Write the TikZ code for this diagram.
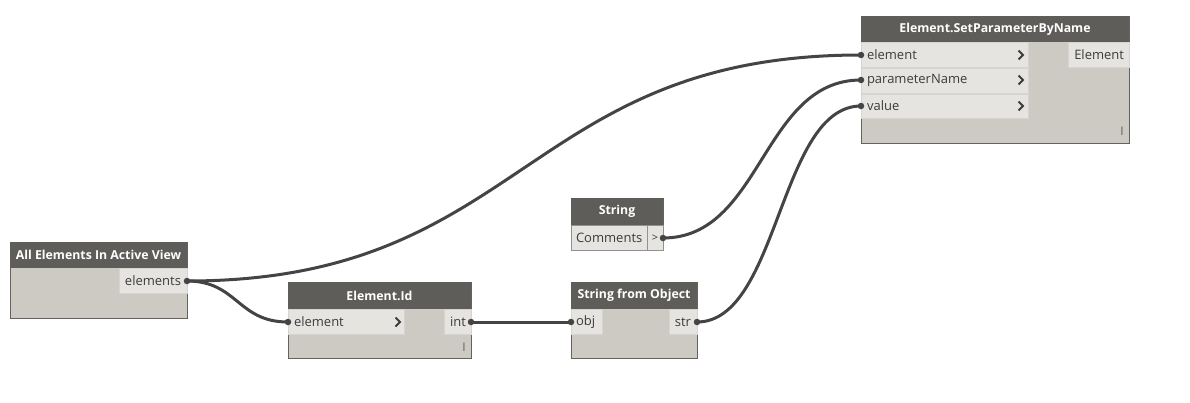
\documentclass[tikz,border=0pt]{standalone}
\usepackage{fontspec}
\setmainfont{Open Sans}
\usetikzlibrary{calc}
\definecolor{headerc}{RGB}{95,93,90}
\definecolor{bodyc}{RGB}{205,201,195}
\definecolor{rowc}{RGB}{230,228,224}
\definecolor{rowsep}{RGB}{215,212,207}
\definecolor{borderc}{RGB}{100,98,95}
\definecolor{textc}{RGB}{60,60,60}
\definecolor{wirec}{RGB}{68,68,68}
\newcommand\dchev[2]{\draw[chevron] (#1-2.5,#2-4.5) -- (#1+2,#2) -- (#1-2.5,#2+4.5);}
\newcommand\dwire[2]{\draw[wire] let \p1=(#1.center), \p2=(#2.center) in (\p1) .. controls ({(\x1+\x2)/2},\y1) and ({(\x1+\x2)/2},\y2) .. (\p2);}
\begin{document}
\begin{tikzpicture}[x=1pt,y=-1pt,
  every node/.style={inner sep=0pt, outer sep=0pt},
  body/.style={draw=borderc, fill=bodyc, line width=0.8pt, anchor=north west},
  header/.style={fill=headerc, anchor=north west, text=white, font=\fontsize{12.3}{15}\selectfont\bfseries},
  row/.style={fill=rowc, draw=rowsep, line width=0.5pt, anchor=north west},
  lbl/.style={text=textc, font=\fontsize{13}{15}\selectfont},
  lacing/.style={text=textc!80, font=\fontsize{12}{14}\selectfont},
  chevron/.style={draw=textc, line width=2pt},
  wire/.style={draw=wirec, line width=3pt},
  port/.style={circle, fill=wirec, minimum size=6.5pt}
]
\useasboundingbox[fill=white] (0,0) rectangle (1190,402);

% ---- Element.SetParameterByName
\node[body, minimum width=268pt, minimum height=127pt] (sp) at (861,16) {};
\node[header, minimum width=268pt, minimum height=26pt] (sph) at (861,16) {Element.SetParameterByName};
\node[row, minimum width=167pt, minimum height=25pt] (spr1) at (861,42) {};
\node[row, minimum width=167pt, minimum height=25pt] (spr2) at (861,68) {};
\node[row, minimum width=167pt, minimum height=24pt] (spr3) at (861,94) {};
\node[row, minimum width=61pt, minimum height=25pt] (spo) at (1068,42) {};
\node[lbl, anchor=west] (spt1) at (867,55) {element};
\node[lbl, anchor=west] (spt2) at (867,80) {parameterName};
\node[lbl, anchor=west] (spt3) at (867,106) {value};
\node[lbl, anchor=east] (spot) at (1124,55) {Element};
\dchev{1021}{55}
\dchev{1021}{80}
\dchev{1021}{106}
\node[lacing] (spl) at (1122,131) {I};
\node[port] (spp1) at (861,55) {};
\node[port] (spp2) at (861,80) {};
\node[port] (spp3) at (861,106) {};

% ---- All Elements In Active View
\node[body, minimum width=177pt, minimum height=76pt] (ae) at (10,242) {};
\node[header, minimum width=177pt, minimum height=26pt] (aeh) at (10,242) {All Elements In Active View};
\node[row, minimum width=68pt, minimum height=25pt] (aeo) at (119,268) {};
\node[lbl, anchor=east] (aeot) at (181,281) {elements};
\node[port] (aep) at (187,281) {};

% ---- Element.Id
\node[body, minimum width=183pt, minimum height=76pt] (ei) at (288,282) {};
\node[header, minimum width=183pt, minimum height=27pt] (eih) at (288,282) {Element.Id};
\node[row, minimum width=116pt, minimum height=25pt] (eir) at (288,309) {};
\node[row, minimum width=27pt, minimum height=25pt] (eio) at (444,309) {};
\node[lbl, anchor=west] (eirt) at (294,322) {element};
\node[lbl, anchor=east] (eiot) at (466,322) {int};
\dchev{398}{322}
\node[lacing] (eil) at (464,347) {I};
\node[port] (eipi) at (288,322) {};
\node[port] (eipo) at (471,322) {};

% ---- String
\node[body, minimum width=92pt, minimum height=52pt] (st) at (571,198) {};
\node[header, minimum width=92pt, minimum height=27pt] (sth) at (571,198) {String};
\node[row, minimum width=76pt, minimum height=25pt, draw=borderc!70] (str) at (571,225) {};
\node[row, minimum width=16pt, minimum height=25pt, draw=borderc!70] (stg) at (647,225) {};
\node[lbl, anchor=west] (strt) at (576,238) {Comments};
\node[lbl, font=\fontsize{11}{12}\selectfont] (stgt) at (655,238) {>};
\node[port] (stp) at (663,238) {};

% ---- String from Object
\node[body, minimum width=126pt, minimum height=76pt] (so) at (571,282) {};
\node[header, minimum width=126pt, minimum height=27pt] (soh) at (571,282) {String from Object};
\node[row, minimum width=31pt, minimum height=25pt] (sor) at (571,309) {};
\node[row, minimum width=28pt, minimum height=25pt] (soo) at (669,309) {};
\node[lbl, anchor=west] (sort) at (576,322) {obj};
\node[lbl, anchor=east] (soot) at (691,322) {str};
\node[port] (sopi) at (571,322) {};
\node[port] (sopo) at (697,322) {};

% ---- wires
\dwire{aep}{spp1}
\dwire{aep}{eipi}
\dwire{eipo}{sopi}
\dwire{stp}{spp2}
\dwire{sopo}{spp3}
\end{tikzpicture}
\end{document}
